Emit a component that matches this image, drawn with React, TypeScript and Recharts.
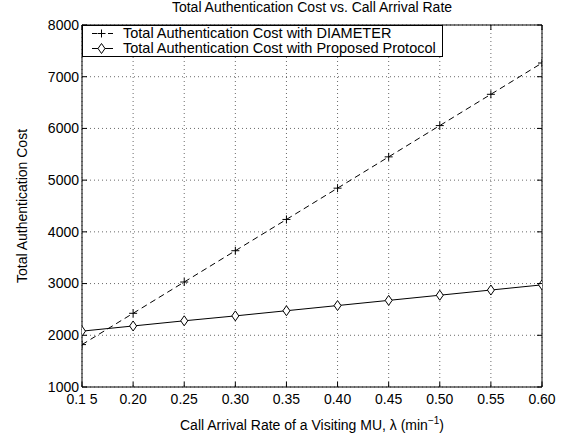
import * as React from 'react';
import { LineChart, Line, XAxis, YAxis, CartesianGrid, Legend } from 'recharts';

const xValues = [0.15, 0.2, 0.25, 0.3, 0.35, 0.4, 0.45, 0.5, 0.55, 0.6];
const xTickLabels = ['0.1 5', '0.20', '0.25', '0.30', '0.35', '0.40', '0.45', '0.50', '0.55', '0.60'];
const yTicks = [1000, 2000, 3000, 4000, 5000, 6000, 7000, 8000];
const diameterCost = [1820, 2425, 3030, 3635, 4240, 4845, 5450, 6055, 6660, 7265];
const proposedCost = [2080, 2180, 2280, 2375, 2475, 2575, 2675, 2775, 2875, 2975];
const seriesNames = [
  'Total Authentication Cost with DIAMETER',
  'Total Authentication Cost with Proposed Protocol',
];

const data = xValues.map((x, i) => ({ x, diameter: diameterCost[i], proposed: proposedCost[i] }));

const FONT = '"Liberation Sans", Arial, Helvetica, sans-serif';
const FS = 14;

const labelFor = (v: number) => {
  const i = xValues.findIndex((x) => Math.abs(x - v) < 1e-6);
  return i >= 0 ? xTickLabels[i] : String(v);
};

// ticks point inward, matlab style
const BottomTick = (props: any) => {
  const { x, y, payload } = props;
  return (
    <g>
      <line x1={x} y1={y} x2={x} y2={y - 5} stroke="#000" />
      <text x={x} y={y + 17} textAnchor="middle" fontSize={FS} fontFamily={FONT} fill="#000">
        {labelFor(payload.value)}
      </text>
    </g>
  );
};

const TopTick = (props: any) => {
  const { x, y } = props;
  return <line x1={x} y1={y} x2={x} y2={y + 5} stroke="#000" />;
};

const LeftTick = (props: any) => {
  const { x, y, payload } = props;
  return (
    <g>
      <line x1={x} y1={y} x2={x + 5} y2={y} stroke="#000" />
      <text x={x - 3} y={y} dy="0.35em" textAnchor="end" fontSize={FS} fontFamily={FONT} fill="#000">
        {payload.value}
      </text>
    </g>
  );
};

const RightTick = (props: any) => {
  const { x, y } = props;
  return <line x1={x} y1={y} x2={x - 5} y2={y} stroke="#000" />;
};

const PlusDot = (props: any) => {
  const { cx, cy, index } = props;
  return (
    <g key={`p${index}`}>
      <line x1={cx - 4} y1={cy} x2={cx + 4} y2={cy} stroke="#000" />
      <line x1={cx} y1={cy - 4} x2={cx} y2={cy + 4} stroke="#000" />
    </g>
  );
};

const DiamondDot = (props: any) => {
  const { cx, cy, index } = props;
  return (
    <path
      key={`d${index}`}
      d={`M${cx},${cy - 5} L${cx + 3.5},${cy} L${cx},${cy + 5} L${cx - 3.5},${cy} Z`}
      fill="#fff"
      stroke="#000"
    />
  );
};

const LegendBox = () => (
  <div
    style={{
      boxSizing: 'border-box',
      width: 361,
      height: 32,
      border: '1px solid #000',
      background: '#fff',
      fontFamily: FONT,
      fontSize: 14.5,
      color: '#000',
    }}
  >
    {seriesNames.map((name, i) => (
      <div key={name} style={{ display: 'flex', alignItems: 'center', height: 15 }}>
        <svg width={40} height={15} style={{ flex: 'none' }}>
          <line x1={9} y1={7.5} x2={30} y2={7.5} stroke="#000" strokeDasharray={i === 0 ? '5 3' : undefined} />
          {i === 0 ? PlusDot({ cx: 18.5, cy: 7.5, index: 0 }) : DiamondDot({ cx: 18.5, cy: 7.5, index: 0 })}
        </svg>
        <span style={{ whiteSpace: 'nowrap', lineHeight: '15px' }}>{name}</span>
      </div>
    ))}
  </div>
);

export default function App() {
  return (
    <div style={{ position: 'absolute', left: 0, top: 0, width: 569, height: 441, background: '#fff' }}>
      <LineChart width={569} height={441} data={data} margin={{ top: 0, right: 0, bottom: 0, left: 0 }}>
        <CartesianGrid stroke="#444" strokeDasharray="1 3" strokeWidth={0.8} />
        <XAxis
          dataKey="x"
          type="number"
          domain={[0.15, 0.6]}
          ticks={xValues}
          height={54}
          stroke="#000"
          tickSize={0}
          tickMargin={0}
          tickLine={false}
          tick={BottomTick}
          allowDataOverflow
          label={(p: any) => {
            const vb = p.viewBox;
            return (
              <text x={vb.x + vb.width / 2} y={vb.y + 43} textAnchor="middle" fontSize={FS} fontFamily={FONT} fill="#000">
                Call Arrival Rate of a Visiting MU, λ (min
                <tspan dy={-6} fontSize={10}>−1</tspan>
                <tspan dy={6}>)</tspan>
              </text>
            );
          }}
        />
        <XAxis
          xAxisId="top"
          orientation="top"
          dataKey="x"
          type="number"
          domain={[0.15, 0.6]}
          ticks={xValues}
          height={25}
          stroke="#000"
          tickSize={0}
          tickMargin={0}
          tickLine={false}
          tick={TopTick}
          allowDataOverflow
          label={(p: any) => {
            const vb = p.viewBox;
            return (
              <text x={vb.x + vb.width / 2} y={12} textAnchor="middle" fontSize={FS} fontFamily={FONT} fill="#000">
                Total Authentication Cost vs. Call Arrival Rate
              </text>
            );
          }}
        />
        <YAxis
          type="number"
          domain={[1000, 8000]}
          ticks={yTicks}
          width={82}
          stroke="#000"
          tickSize={0}
          tickMargin={0}
          tickLine={false}
          tick={LeftTick}
          allowDataOverflow
          label={(p: any) => {
            const vb = p.viewBox;
            const cx = 22;
            const cy = vb.y + vb.height / 2;
            return (
              <text
                x={cx}
                y={cy}
                dy="0.35em"
                transform={`rotate(-90 ${cx} ${cy})`}
                textAnchor="middle"
                fontSize={FS}
                fontFamily={FONT}
                fill="#000"
              >
                Total Authentication Cost
              </text>
            );
          }}
        />
        <YAxis
          yAxisId="right"
          orientation="right"
          type="number"
          domain={[1000, 8000]}
          ticks={yTicks}
          width={27}
          stroke="#000"
          tickSize={0}
          tickMargin={0}
          tickLine={false}
          tick={RightTick}
          allowDataOverflow
        />
        <Legend
          verticalAlign="middle"
          align="center"
          layout="horizontal"
          wrapperStyle={{ left: 82, top: 25, width: 361, height: 32 }}
          content={LegendBox}
        />
        <Line
          type="linear"
          dataKey="diameter"
          name={seriesNames[0]}
          stroke="#000"
          strokeWidth={1}
          strokeDasharray="6 4"
          dot={PlusDot}
          activeDot={false}
          isAnimationActive={false}
        />
        <Line
          type="linear"
          dataKey="proposed"
          name={seriesNames[1]}
          stroke="#000"
          strokeWidth={1}
          dot={DiamondDot}
          activeDot={false}
          isAnimationActive={false}
        />
      </LineChart>
    </div>
  );
}
